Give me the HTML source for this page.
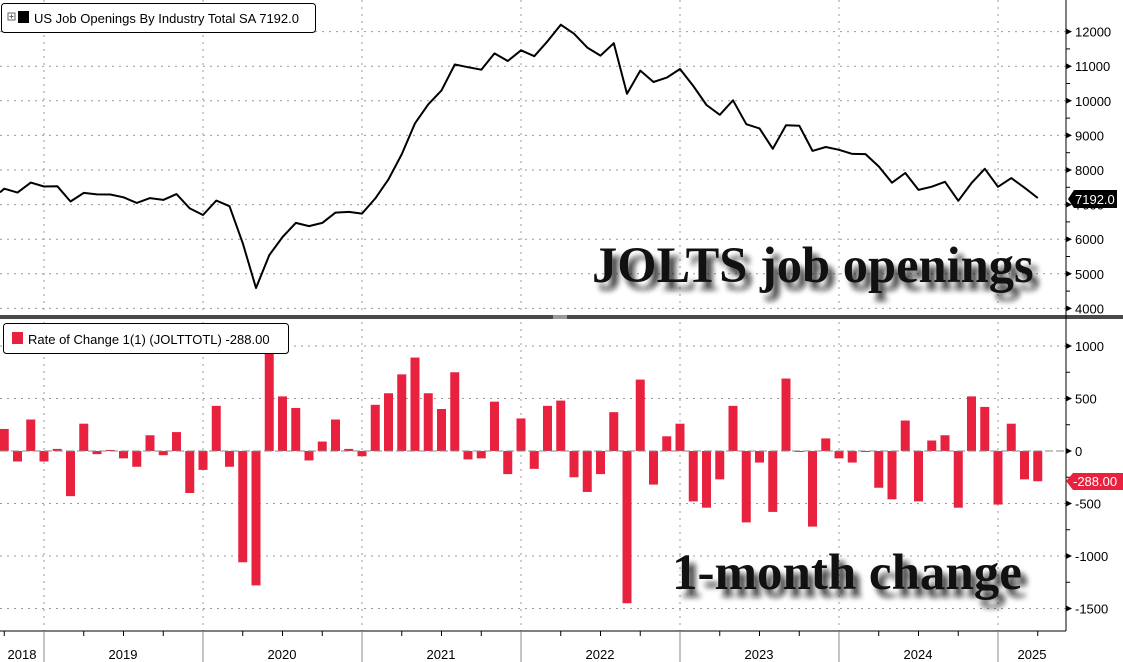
<!DOCTYPE html>
<html><head><meta charset="utf-8"><style>
body{margin:0;background:#fff;width:1123px;height:662px;overflow:hidden;font-family:"Liberation Sans",sans-serif}
svg{display:block}
.big{font-family:"Liberation Serif",serif;font-weight:bold;fill:#111}
</style></head><body>
<svg id="s" width="1123" height="662" viewBox="0 0 1123 662" xmlns="http://www.w3.org/2000/svg">
<defs><filter id="sh" x="-10%" y="-30%" width="130%" height="180%"><feGaussianBlur stdDeviation="3"/></filter></defs>
<g id="g"></g>
<text class="big" x="598" y="290" font-size="50.5" fill="#777" filter="url(#sh)" opacity="0.8">JOLTS job openings</text>
<text class="big" x="592" y="282" font-size="50.5">JOLTS job openings</text>
<text class="big" x="678" y="597" font-size="51" fill="#777" filter="url(#sh)" opacity="0.8">1-month change</text>
<text class="big" x="672" y="589" font-size="51">1-month change</text>
</svg>
<script>
var bars=[210,-100,300,-100,20,-430,260,-30,10,-70,-150,150,-40,180,-400,-180,430,-150,-1060,-1280,950,520,410,-90,90,300,20,-50,440,550,730,890,550,400,750,-80,-70,470,-220,310,-170,430,480,-250,-390,-220,370,-1450,680,-320,140,260,-480,-540,-270,430,-680,-110,-580,690,0,-720,120,-70,-110,0,-350,-460,290,-480,100,150,-540,520,420,-510,260,-270,-288];
var n=bars.length,v=new Array(n);v[n-1]=7192;
for(var i=n-1;i>0;i--)v[i-1]=v[i]-bars[i];
var km=[0,19,42,60,78],ko=[580,350,350,150,0];
function off(i){for(var k=0;k<km.length-1;k++){if(i<=km[k+1]){var t=(i-km[k])/(km[k+1]-km[k]);return ko[k]+(ko[k+1]-ko[k])*t;}}return 0;}
for(var i=0;i<n;i++)v[i]+=off(i);
function X(i){return 44+(i-3)*13.25;}
function YT(a){return 170+(8000-a)*0.0346;}
function YB(a){return 451-a*0.105;}
var h='';
for(var a=4000;a<=12000;a+=1000){var y=YT(a);h+='<line x1="0" x2="1066" y1="'+y+'" y2="'+y+'" stroke="#999" stroke-dasharray="2,5"/>';}
[1000,500,-500,-1000,-1500].forEach(function(a){var y=YB(a);h+='<line x1="0" x2="1066" y1="'+y+'" y2="'+y+'" stroke="#999" stroke-dasharray="2,5"/>';});
for(var k=0;k<7;k++){var x=44+k*159;h+='<line x1="'+x+'" x2="'+x+'" y1="0" y2="631" stroke="#999" stroke-dasharray="2,5"/>';}
for(var i=0;i<n;i++){var b=bars[i],y0=YB(0),y1=YB(b);h+='<rect x="'+(X(i)-4.5)+'" y="'+Math.min(y0,y1)+'" width="9" height="'+Math.max(1,Math.abs(y1-y0))+'" fill="#e8213f"/>';}
h+='<line x1="0" x2="1066" y1="451" y2="451" stroke="#888" stroke-dasharray="8,3"/>';
var p='M0,'+YT(v[0]-bars[0]*0.5);
for(var i=0;i<n;i++)p+=' L'+X(i).toFixed(1)+','+YT(v[i]).toFixed(1);
h+='<path d="'+p+'" fill="none" stroke="#000" stroke-width="2" stroke-linejoin="round"/>';
h+='<rect x="0" y="315" width="1123" height="4" fill="#4a4a4a"/><rect x="553" y="315" width="14" height="4" fill="#999"/>';
h+='<line x1="1066" x2="1066" y1="0" y2="631" stroke="#000"/>';
for(var a=4000;a<=12000;a+=500){var y=YT(a);if(y>314)continue;h+='<line x1="1066" x2="1070" y1="'+y+'" y2="'+y+'" stroke="#000"/>';if(a%1000==0){h+='<path d="M1066,'+(y-3)+' L1072,'+y+' L1066,'+(y+3)+'Z"/><text x="1075" y="'+(y+5)+'" font-size="13">'+a+'</text>';}}
for(var a=-1500;a<=1000;a+=250){var y=YB(a);h+='<line x1="1066" x2="1070" y1="'+y+'" y2="'+y+'" stroke="#000"/>';if(a%500==0){h+='<path d="M1066,'+(y-3)+' L1072,'+y+' L1066,'+(y+3)+'Z"/><text x="1075" y="'+(y+5)+'" font-size="13">'+(a<0?'-'+(-a):a)+'</text>';}}
h+='<path d="M1068,199 L1074,190 L1117,190 L1117,208 L1074,208Z" fill="#000"/><text x="1075" y="204" font-size="13" fill="#fff">7192.0</text>';
h+='<path d="M1066,481 L1073,473 L1123,473 L1123,490 L1073,490Z" fill="#e8213f"/><text x="1073" y="486" font-size="13" fill="#fff">-288.00</text>';
h+='<line x1="0" x2="1066" y1="631" y2="631" stroke="#000"/>';
for(var k=-1;k<7;k++){var x=44+k*159;if(k>=0)h+='<line x1="'+x+'" x2="'+x+'" y1="631" y2="662" stroke="#888"/>';for(var q=1;q<4;q++){var xq=x+q*39.75;if(xq>0&&xq<1066)h+='<line x1="'+xq+'" x2="'+xq+'" y1="631" y2="636" stroke="#000"/>';}}
var yrs=['2018','2019','2020','2021','2022','2023','2024','2025'];
var cx=[22,123,282,441,600,759,918,1032];
for(var k=0;k<8;k++)h+='<text x="'+cx[k]+'" y="659" font-size="13" text-anchor="middle">'+yrs[k]+'</text>';
h+='<rect x="1.5" y="3.5" width="314" height="29" rx="3" fill="#fff" stroke="#000"/><rect x="8" y="13" width="7" height="7" fill="none" stroke="#666"/><line x1="9.5" x2="13.5" y1="16.5" y2="16.5" stroke="#666"/><line x1="11.5" x2="11.5" y1="14.5" y2="18.5" stroke="#666"/><rect x="18" y="11" width="11" height="12" fill="#000"/><text x="34" y="23" font-size="13">US Job Openings By Industry Total SA 7192.0</text>';
h+='<rect x="3.5" y="323.5" width="285" height="30" rx="3" fill="#fff" stroke="#000"/><rect x="12" y="332" width="11" height="12" fill="#e8213f"/><text x="28" y="344" font-size="13">Rate of Change 1(1) (JOLTTOTL) -288.00</text>';
document.getElementById('g').innerHTML=h;
</script>
</body></html>
